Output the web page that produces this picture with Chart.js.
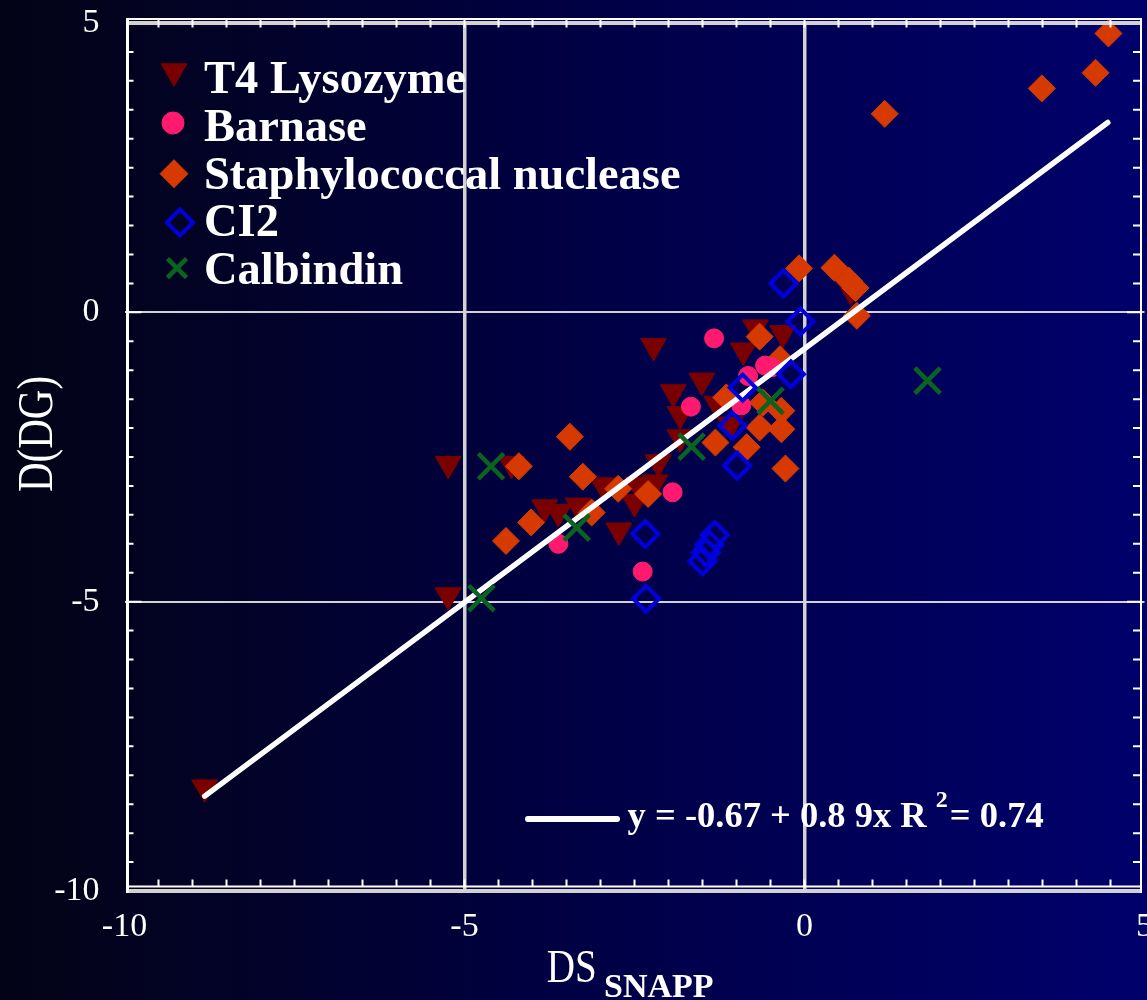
<!DOCTYPE html>
<html>
<head>
<meta charset="utf-8">
<title>D(DG) vs DS SNAPP</title>
<script src="https://cdn.jsdelivr.net/npm/chart.js"></script>
<style>
  html, body { margin: 0; padding: 0; background: #02021a; }
  #chart { display: block; }
</style>
</head>
<body>
<canvas id="chart" width="1147" height="1000"></canvas>
<script>
// points: [DS_SNAPP, D(DG)]
var t4Lysozyme = [
  [-8.82, -8.21], [-5.24, -2.62], [-5.24, -4.89], [-4.31, -2.62], [-3.82, -3.37],
  [-3.62, -3.45], [-3.33, -3.34], [-2.96, -2.99], [-2.73, -3.77], [-2.50, -3.28],
  [-2.45, -2.98], [-2.20, -2.94], [-2.15, -2.59], [-2.22, -0.58], [-1.83, -1.76],
  [-1.83, -2.16], [-1.93, -1.38], [-1.51, -1.18], [-1.29, -1.58], [-1.09, -1.94],
  [-0.90, -0.66], [-0.72, -0.26], [-0.32, -0.36], [0.68, 0.38]
];
var barnase = [
  [-3.62, -4.00], [-2.38, -4.48], [-1.94, -3.11], [-1.67, -1.63], [-1.33, -0.45],
  [-0.93, -1.61], [-0.83, -1.10], [-0.58, -0.92], [-0.48, -0.95]
];
var staphNuclease = [
  [-4.39, -3.95], [-4.02, -3.63], [-4.20, -2.66], [-3.45, -2.15], [-3.26, -2.84],
  [-3.13, -3.46], [-2.74, -3.05], [-2.30, -3.14], [-1.31, -2.25], [-1.15, -1.47],
  [-0.85, -2.33], [-0.66, -1.99], [-0.61, -1.56], [-0.34, -1.70], [-0.34, -2.02],
  [-0.28, -2.70], [-0.36, -0.81], [-0.66, -0.42], [-0.08, 0.76], [0.44, 0.77],
  [0.65, 0.55], [0.75, 0.42], [0.77, -0.06], [1.18, 3.43], [3.49, 3.87],
  [4.28, 4.14], [4.47, 4.82]
];
var ci2 = [
  [-2.33, -4.95], [-2.34, -3.83], [-1.32, -3.85], [-1.40, -4.02], [-1.45, -4.15],
  [-1.50, -4.30], [-0.99, -2.65], [-1.06, -1.96], [-0.91, -1.30], [-0.20, -1.07],
  [-0.06, -0.16], [-0.31, 0.50]
];
var calbindin = [
  [-4.75, -4.94], [-4.61, -2.66], [-3.35, -3.72], [-1.66, -2.32], [-0.50, -1.53],
  [1.81, -1.18]
];
var fitLine = [[-8.82, -8.36], [4.46, 3.28]];

var seriesNames = ['T4 Lysozyme', 'Barnase', 'Staphylococcal nuclease', 'CI2', 'Calbindin'];
var fitText = 'y = -0.67 + 0.8 9x R ';
var fitSup = '2';
var fitTail = '= 0.74';
var xTicks = [-10, -5, 0, 5];
var yTicks = [5, 0, -5, -10];

var serif = "'Liberation Serif', 'Times New Roman', serif";

function toXY(list) {
  return list.map(function (p) { return { x: p[0], y: p[1] }; });
}

// dark-to-navy wash behind everything
var backdrop = {
  id: 'backdrop',
  beforeDraw: function (chart) {
    var c = chart.ctx;
    var g = c.createLinearGradient(0, 0, chart.width, 0);
    g.addColorStop(0, 'rgb(3,3,22)');
    g.addColorStop(0.25, 'rgb(2,2,44)');
    g.addColorStop(0.5, 'rgb(0,0,68)');
    g.addColorStop(0.75, 'rgb(0,0,88)');
    g.addColorStop(1, 'rgb(0,0,108)');
    c.save();
    c.fillStyle = g;
    c.fillRect(0, 0, chart.width, chart.height);
    c.restore();
  }
};

// white box, grey bands and the inward minor ticks
var frame = {
  id: 'frame',
  afterDatasetsDraw: function (chart) {
    var c = chart.ctx, a = chart.chartArea;
    var xs = chart.scales.x, ys = chart.scales.y;
    var L = a.left + 3, R = a.right - 3.5, T = a.top - 4, B = a.bottom - 4.5;
    var v, p;
    c.save();
    c.fillStyle = '#d2d2d2';
    c.fillRect(L, a.top - 2, R - L, 4);
    c.fillRect(L, a.bottom - 2, R - L, 4);

    c.strokeStyle = '#ffffff';
    c.lineWidth = 2;
    c.beginPath();
    for (v = -9.5; v < 5; v += 0.5) {
      p = xs.getPixelForValue(v);
      c.moveTo(p, T); c.lineTo(p, T + 8.5);
      c.moveTo(p, B); c.lineTo(p, B - 7);
    }
    for (v = -9.5; v < 5; v += 0.5) {
      p = ys.getPixelForValue(v);
      var major = v % 5 === 0;
      c.moveTo(L, p); c.lineTo(L + (major ? 14 : 6), p);
      c.moveTo(R, p); c.lineTo(R - (major ? 14 : 8), p);
    }
    c.stroke();

    c.beginPath();
    c.moveTo(L - 1, T); c.lineTo(R + 1, T);
    c.moveTo(L - 1, B); c.lineTo(R + 1, B);
    c.moveTo(R, T); c.lineTo(R, a.bottom + 2);
    c.stroke();
    c.lineWidth = 3;
    c.beginPath();
    c.moveTo(L, T - 1); c.lineTo(L, a.bottom + 2);
    c.stroke();
    c.restore();
  }
};

// legend, fit label and axis titles
var labels = {
  id: 'labels',
  afterDraw: function (chart) {
    var c = chart.ctx;
    var sets = chart.data.datasets;
    var markX = [174, 173, 174, 180, 177];
    var markDy = [-22, -18, -15, -14, -16];
    var markR = [15, 11, 14, 13, 13.5];
    c.save();
    c.fillStyle = '#ffffff';
    c.textAlign = 'left';
    c.textBaseline = 'alphabetic';
    for (var i = 0; i < seriesNames.length; i++) {
      var ds = sets[i];
      var base = 93.3 + i * 47.7;
      c.save();
      c.fillStyle = ds.pointBackgroundColor;
      c.strokeStyle = ds.pointBorderColor;
      c.lineWidth = ds.pointBorderWidth;
      Chart.helpers.drawPoint(c, {
        pointStyle: ds.pointStyle,
        radius: markR[i],
        rotation: ds.pointRotation || 0,
        borderWidth: ds.pointBorderWidth
      }, markX[i], base + markDy[i]);
      c.restore();
      c.font = 'bold 46.5px ' + serif;
      c.fillText(seriesNames[i], 204, base);
    }

    // regression key
    c.strokeStyle = '#ffffff';
    c.lineWidth = 6;
    c.lineCap = 'round';
    c.beginPath();
    c.moveTo(528, 819); c.lineTo(617, 819);
    c.stroke();
    c.font = 'bold 36.5px ' + serif;
    var tx = 627.6;
    c.fillText(fitText, tx, 826.7);
    tx += c.measureText(fitText).width;
    c.font = 'bold 24px ' + serif;
    c.fillText(fitSup, tx, 807);
    tx += c.measureText(fitSup).width + 2;
    c.font = 'bold 36.5px ' + serif;
    c.fillText(fitTail, tx, 826.7);

    // axis titles
    c.save();
    c.translate(52, 492);
    c.rotate(-Math.PI / 2);
    c.scale(0.82, 1);
    c.font = '50px ' + serif;
    c.fillText('D(DG)', 0, 0);
    c.restore();

    c.save();
    c.translate(546.7, 981.7);
    c.scale(0.85, 1);
    c.font = '46px ' + serif;
    c.fillText('DS', 0, 0);
    c.restore();
    c.font = 'bold 34px ' + serif;
    c.fillText('SNAPP', 604, 996.7);
    c.restore();
  }
};

function pickGrid(values, on, off) {
  return function (ctx) {
    return ctx.tick && values.indexOf(ctx.tick.value) >= 0 ? on : off;
  };
}

var ctx = document.getElementById('chart').getContext('2d');
var myChart = new Chart(ctx, {
  type: 'scatter',
  data: {
    datasets: [{
      label: seriesNames[0],
      data: toXY(t4Lysozyme),
      pointStyle: 'triangle',
      pointRotation: 180,
      pointRadius: 15,
      pointBackgroundColor: '#7a0000',
      pointBorderColor: '#7a0000',
      pointBorderWidth: 1,
      order: 6,
      clip: false
    }, {
      label: seriesNames[1],
      data: toXY(barnase),
      pointStyle: 'circle',
      pointRadius: 9.5,
      pointBackgroundColor: '#ff1a70',
      pointBorderColor: '#ff1a70',
      pointBorderWidth: 1,
      order: 4,
      clip: false
    }, {
      label: seriesNames[2],
      data: toXY(staphNuclease),
      pointStyle: 'rectRot',
      pointRadius: 13.5,
      pointBackgroundColor: '#d63a00',
      pointBorderColor: '#d63a00',
      pointBorderWidth: 1,
      order: 5,
      clip: false
    }, {
      label: seriesNames[3],
      data: toXY(ci2),
      pointStyle: 'rectRot',
      pointRadius: 13,
      pointBackgroundColor: 'rgba(0,0,0,0)',
      pointBorderColor: '#0000de',
      pointBorderWidth: 4,
      order: 2,
      clip: false
    }, {
      label: seriesNames[4],
      data: toXY(calbindin),
      pointStyle: 'crossRot',
      pointRadius: 18,
      pointBackgroundColor: 'rgba(0,0,0,0)',
      pointBorderColor: '#0a6420',
      pointBorderWidth: 4.5,
      order: 1,
      clip: false
    }, {
      type: 'line',
      label: 'fit',
      data: toXY(fitLine),
      showLine: true,
      borderColor: '#ffffff',
      borderWidth: 5.5,
      borderCapStyle: 'round',
      pointRadius: 0,
      fill: false,
      order: 3,
      clip: false
    }]
  },
  options: {
    responsive: false,
    animation: false,
    events: [],
    devicePixelRatio: 1,
    layout: { autoPadding: false, padding: { left: 0, right: 2.5, top: 23, bottom: 0 } },
    plugins: {
      legend: { display: false },
      tooltip: { enabled: false }
    },
    scales: {
      x: {
        type: 'linear',
        min: -10,
        max: 5,
        afterBuildTicks: function (s) {
          s.ticks = xTicks.map(function (v) { return { value: v }; });
        },
        afterFit: function (s) {
          s.height = 109;
          s.paddingLeft = 0;
          s.paddingRight = 0;
        },
        ticks: {
          color: '#ffffff',
          font: { family: serif, size: 34 },
          padding: 16,
          maxRotation: 0,
          autoSkip: false
        },
        grid: {
          drawTicks: false,
          color: pickGrid([-5, 0], '#d2d2d2', 'rgba(0,0,0,0)'),
          lineWidth: 3.5
        },
        border: { display: false }
      },
      y: {
        type: 'linear',
        min: -10,
        max: 5,
        afterBuildTicks: function (s) {
          s.ticks = yTicks.map(function (v) { return { value: v }; });
        },
        afterFit: function (s) {
          s.width = 124.5;
          s.paddingTop = 0;
          s.paddingBottom = 0;
        },
        ticks: {
          color: '#ffffff',
          font: { family: serif, size: 34 },
          padding: 25,
          autoSkip: false
        },
        grid: {
          drawTicks: false,
          color: pickGrid([0, -5], '#d2d2d2', 'rgba(0,0,0,0)'),
          lineWidth: 2
        },
        border: { display: false }
      }
    }
  },
  plugins: [backdrop, frame, labels]
});
</script>
</body>
</html>
